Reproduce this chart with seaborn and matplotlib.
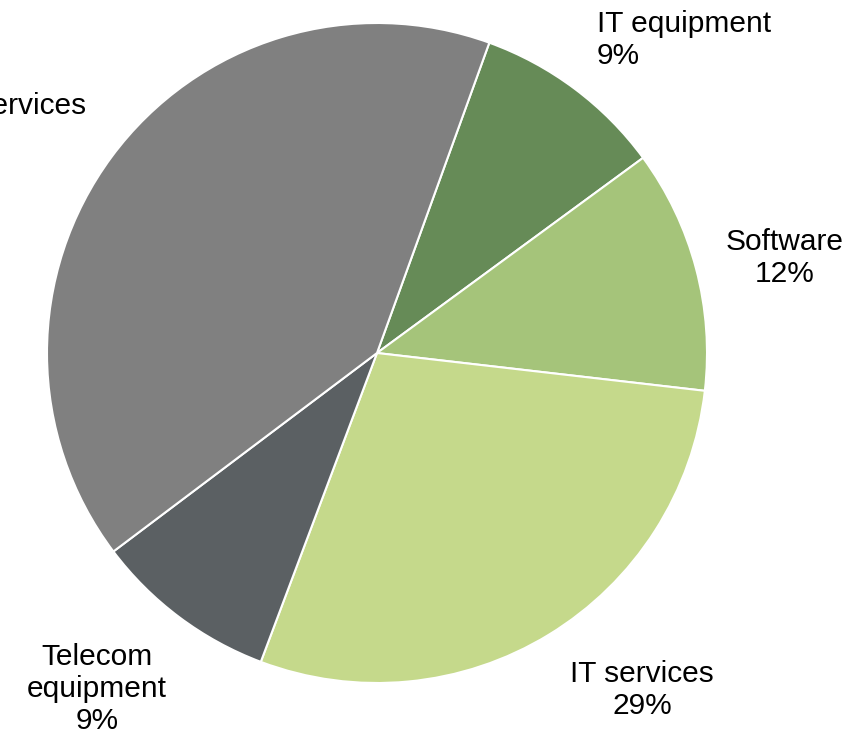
import matplotlib
matplotlib.use('Agg')
import matplotlib.pyplot as plt
import seaborn as sns

# Market share by segment (clockwise from top)
segments = ['IT equipment', 'Software', 'IT services', 'Telecom equipment', 'Telecom services']
shares = [9.4, 11.9, 28.9, 9.0, 40.8]
label_text = ['IT equipment\n9%', 'Software\n12%', 'IT services\n29%',
              'Telecom\nequipment\n9%', 'Telecom services\n41%']
colors = ['#668b57', '#a5c47a', '#c5d98b', '#5b6063', '#808080']

sns.set_style('white')
plt.rcParams['font.family'] = ['Liberation Sans', 'DejaVu Sans']

fig = plt.figure(figsize=(8.51, 7.36), dpi=100)
ax = fig.add_axes([0, 0, 1, 1])

ax.pie(shares, colors=colors, startangle=70.1, counterclock=False,
       center=(377, 383), radius=330, frame=True,
       wedgeprops={'edgecolor': 'white', 'linewidth': 1.5})
ax.set_xlim(0, 851)
ax.set_ylim(0, 736)
ax.axis('off')

# label positions in pixel coords (y from top)
pos = [(597, 40, 'left', 'left'),
       (785, 258, 'center', 'center'),
       (642, 690, 'center', 'center'),
       (97, 689, 'center', 'center'),
       (86, 122, 'right', 'center')]
for txt, (x, y, ha, ma) in zip(label_text, pos):
    ax.text(x, 736 - y, txt, ha=ha, va='center', multialignment=ma,
            fontsize=21.5, color='black', linespacing=1.2)

fig.savefig('out.png', dpi=100)
